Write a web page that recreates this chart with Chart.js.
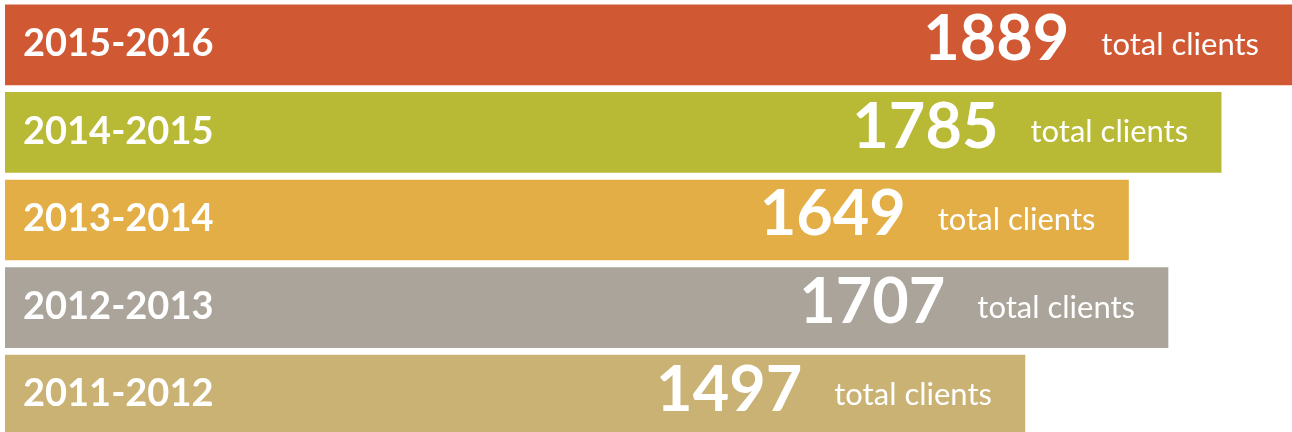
<!DOCTYPE html>
<html>
<head>
<meta charset="utf-8">
<script src="https://cdn.jsdelivr.net/npm/chart.js@4/dist/chart.umd.min.js"></script>
<style>
html,body{margin:0;padding:0;background:#fff;overflow:hidden;}
#wrap{position:relative;width:1292px;height:439px;}
</style>
</head>
<body>
<div id="wrap"><canvas id="c"></canvas></div>
<script>
const categories = ["2015-2016","2014-2015","2013-2014","2012-2013","2011-2012"];
const totals = [1889,1785,1649,1707,1497];
const barColors = ["#D05934","#B8B934","#E2AE45","#ABA49A","#C9B273"];
const suffix = "total clients";

const textPlugin = {
  id:'barText',
  afterDatasetsDraw(chart){
    const ctx = chart.ctx;
    const meta = chart.getDatasetMeta(0);
    const left = chart.chartArea.left;
    ctx.save();
    ctx.fillStyle = '#ffffff';
    ctx.textBaseline = 'middle';
    meta.data.forEach((bar,i)=>{
      const y = bar.y;
      ctx.font = 'bold 38px Lato';
      ctx.textAlign = 'left';
      ctx.fillText(categories[i], left + 18, y - 1);
      ctx.font = '31px Lato';
      ctx.textAlign = 'right';
      const endT = bar.x - 33;
      ctx.fillText(suffix, endT, y);
      const w = ctx.measureText(suffix).width;
      ctx.font = 'bold 63px Lato';
      ctx.fillText(String(totals[i]), endT - w - 32, y - 5);
    });
    ctx.restore();
  }
};

new Chart(document.getElementById('c'),{
  type:'bar',
  data:{labels:categories,datasets:[{data:totals,backgroundColor:barColors,barThickness:80,borderWidth:0}]},
  options:{
    indexAxis:'y',
    responsive:true,maintainAspectRatio:false,animation:false,
    layout:{padding:{top:1,left:5,right:0,bottom:0}},
    plugins:{legend:{display:false},tooltip:{enabled:false}},
    scales:{
      x:{display:false,min:0,max:1889},
      y:{display:false}
    }
  },
  plugins:[textPlugin]
});
</script>
</body>
</html>
